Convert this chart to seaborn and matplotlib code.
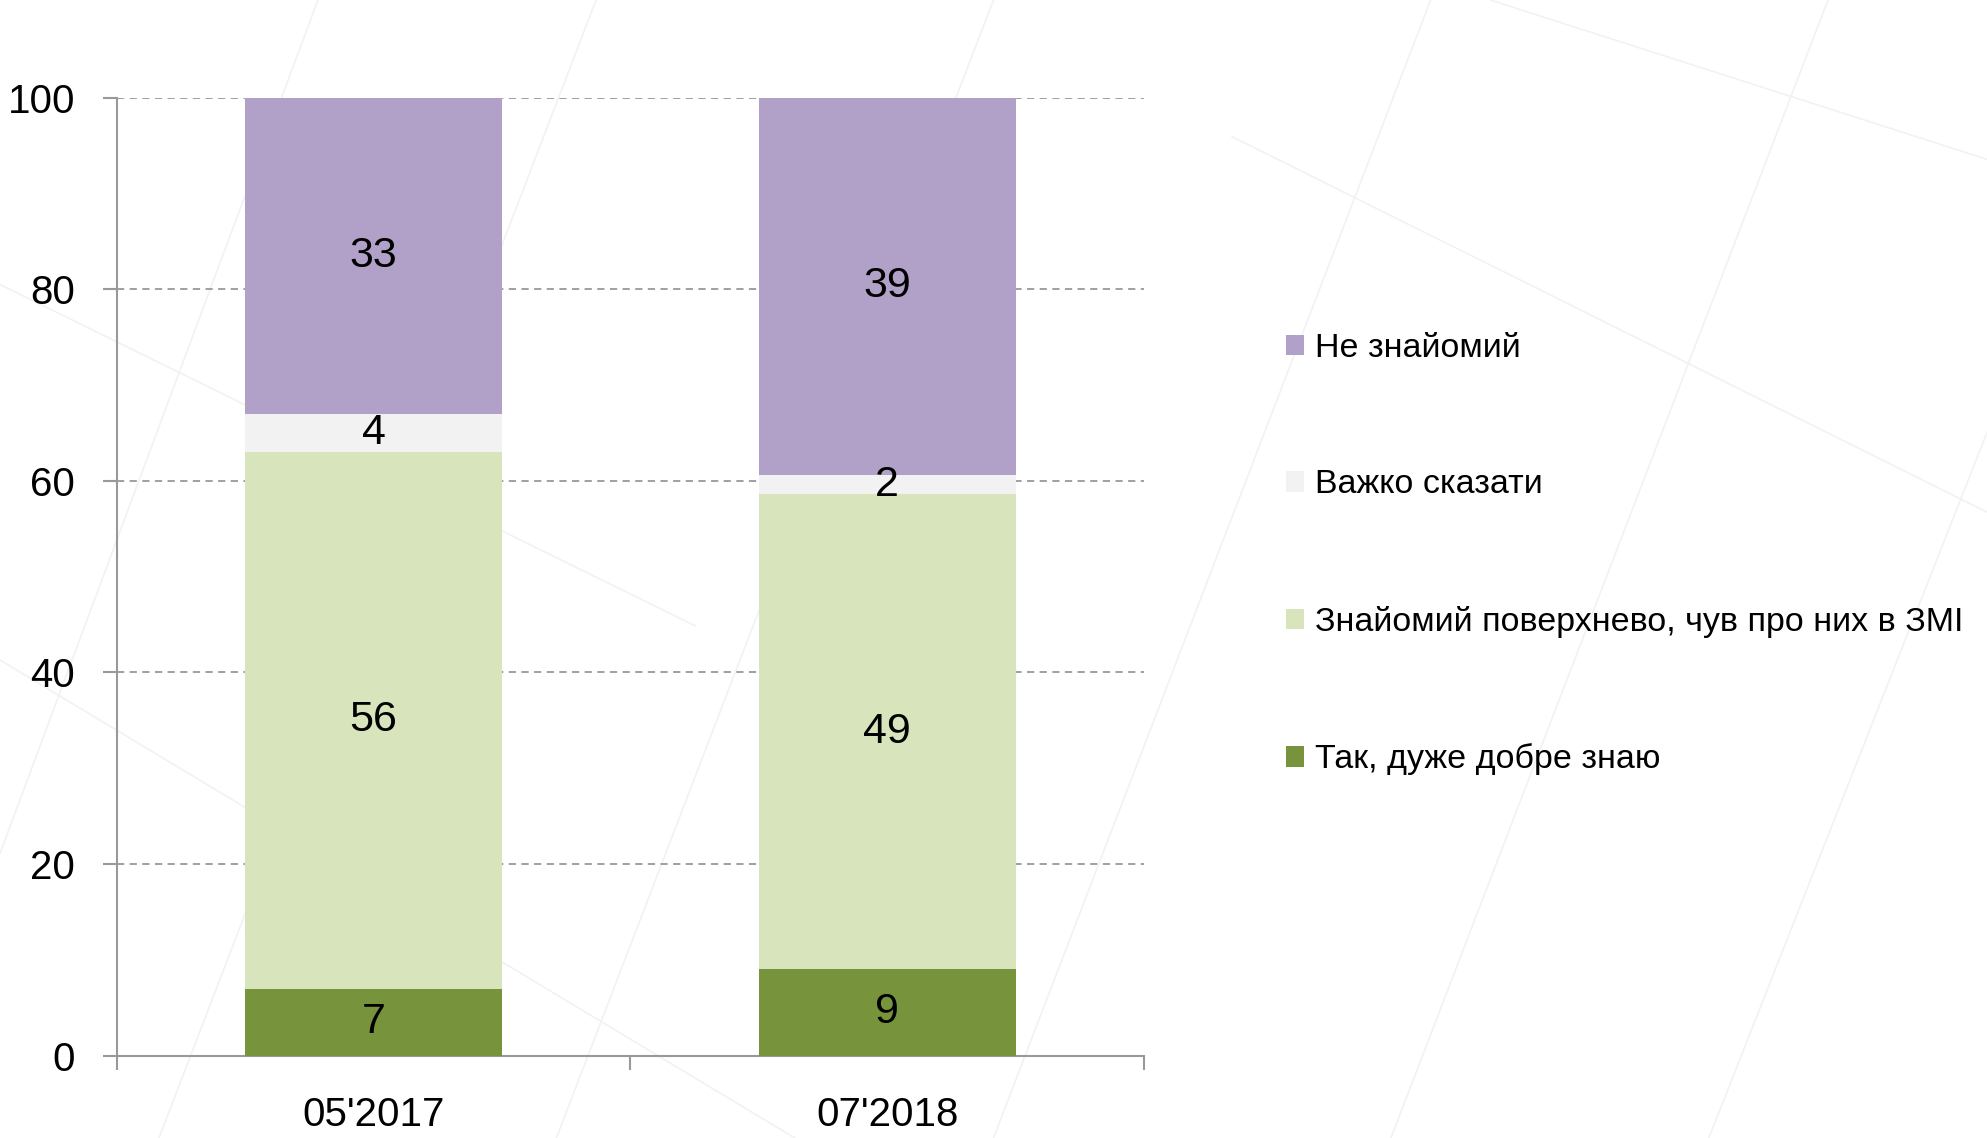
import matplotlib
matplotlib.use("Agg")
import matplotlib.pyplot as plt
from matplotlib.lines import Line2D
from matplotlib.patches import Patch
import seaborn as sns
import pandas as pd
import numpy as np

# ---- data ----
periods = ["05'2017", "07'2018"]
series_names = ["Так, дуже добре знаю",
                "Знайомий поверхнево, чув про них в ЗМІ",
                "Важко сказати",
                "Не знайомий"]
very_well = [7, 9]
superficial = [56, 49]
hard_to_say = [4, 2]
not_familiar = [33, 39]
colors = ["#77933c", "#d8e4bc", "#f2f2f2", "#b1a0c7"]
yticks = [0, 20, 40, 60, 80, 100]

sns.set_theme(style="white")
plt.rcParams['font.family'] = ['Liberation Sans', 'DejaVu Sans']

raw = np.array([very_well, superficial, hard_to_say, not_familiar], dtype=float)
pct = raw / raw.sum(axis=0) * 100  # 100% stacked
cum = np.cumsum(pct, axis=0)

fig = plt.figure(figsize=(19.87, 11.38), dpi=100)
fig.patch.set_facecolor("white")

# faint decorative background lines
bg = [((0.0, 0.25), (0.16, 1.0)), ((0.08, 0.0), (0.30, 1.0)), ((0.28, 0.0), (0.50, 1.0)),
      ((0.50, 0.0), (0.72, 1.0)), ((0.70, 0.0), (0.92, 1.0)), ((0.86, 0.0), (1.0, 0.62)),
      ((0.0, 0.75), (0.35, 0.45)), ((0.62, 0.88), (1.0, 0.55)), ((0.75, 1.0), (1.0, 0.86)),
      ((0.0, 0.42), (0.40, 0.0))]
for (x0, y0), (x1, y1) in bg:
    fig.add_artist(Line2D([x0, x1], [y0, y1], transform=fig.transFigure,
                          color="#f2f2f2", lw=1.2, zorder=0))

ax = fig.add_axes([0.0587, 0.0723, 0.5170, 0.8419])
ax.set_facecolor("none")

# draw cumulative bars from top layer down so lower layers overlay
for i in range(len(series_names) - 1, -1, -1):
    df = pd.DataFrame({"period": periods, "value": cum[i]})
    sns.barplot(data=df, x="period", y="value", color=colors[i], width=0.5,
                saturation=1, ax=ax, zorder=3, edgecolor="none", linewidth=0)

# labels
for j in range(len(periods)):
    for i in range(len(series_names)):
        bottom = cum[i - 1, j] if i > 0 else 0
        ax.text(j, bottom + pct[i, j] / 2, f"{int(raw[i, j])}", ha="center", va="center",
                fontsize=31, color="black", zorder=5)

ax.set_ylim(0, 100)
ax.set_xlim(-0.5, 1.5)
ax.set_yticks(yticks)
ax.set_yticklabels([str(t) for t in yticks])
ax.set_xlabel("")
ax.set_ylabel("")
ax.yaxis.grid(True, linestyle=(0, (4, 3)), color="#999999", linewidth=1.3, zorder=0)
ax.set_axisbelow(True)

for s in ["top", "right"]:
    ax.spines[s].set_visible(False)
for s in ["left", "bottom"]:
    ax.spines[s].set_color("#999999")
    ax.spines[s].set_linewidth(1.5)

ax.tick_params(axis="y", which="major", length=10, width=1.5, color="#999999",
               labelsize=29, labelcolor="black", pad=20, left=True)
ax.set_xticks([0, 1])
ax.set_xticklabels(periods)
ax.tick_params(axis="x", which="major", length=0, labelsize=29, labelcolor="black", pad=29)
ax.set_xticks([-0.5, 0.5, 1.5], minor=True)
ax.tick_params(axis="x", which="minor", length=10, width=1.5, color="#999999", bottom=True)

handles = [Patch(facecolor=colors[i], edgecolor="none") for i in range(len(series_names) - 1, -1, -1)]
labels = [series_names[i] for i in range(len(series_names) - 1, -1, -1)]
fig.legend(handles, labels, loc="center left", bbox_to_anchor=(0.6385, 0.513),
           frameon=False, fontsize=24.5, handlelength=0.55, handleheight=0.55,
           handletextpad=0.3, labelspacing=3.1, borderpad=0, labelcolor="black")

fig.savefig("out.png", dpi=100, facecolor="white")
